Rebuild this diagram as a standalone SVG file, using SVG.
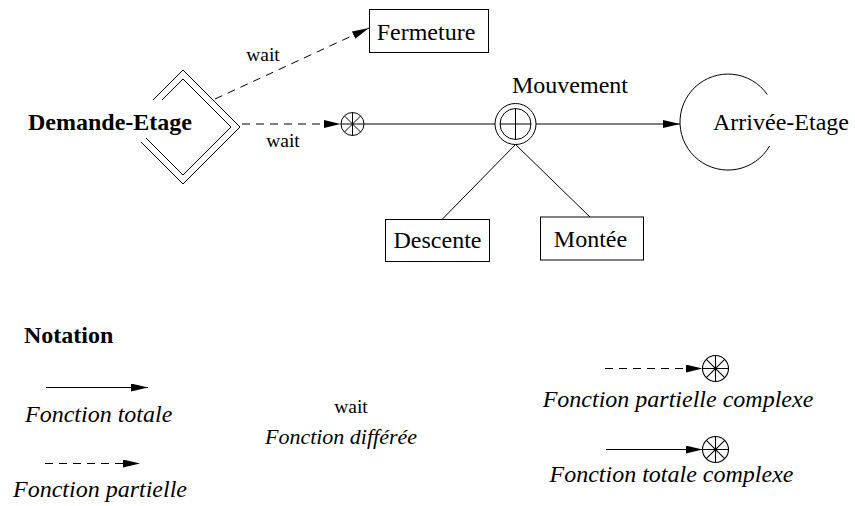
<svg xmlns="http://www.w3.org/2000/svg" width="855" height="506" viewBox="0 0 855 506">
  <style>
    .ln { fill: none; stroke: #000; stroke-width: 1; }
    .dash { stroke-dasharray: 8 6; }
    .box { fill: #fff; stroke: #000; stroke-width: 1; }
    .t { font-family: "Liberation Serif", serif; font-size: 24px; fill: #000; }
    .bold { font-weight: bold; }
    .ital { font-style: italic; }
    .w { font-family: "Liberation Serif", serif; font-size: 19.5px; fill: #000; }
  </style>
  <defs>
    <marker id="arrow" viewBox="0 0 17 8" refX="17" refY="4" markerWidth="17" markerHeight="8" markerUnits="userSpaceOnUse" orient="auto">
      <path d="M0,0 L17,4 L0,8 Z" fill="#000"/>
    </marker>
    <!-- complex-function symbol: circle with eight spokes -->
    <g id="star">
      <circle cx="0" cy="0" r="1" fill="#fff" stroke="#000" stroke-width="0.085"/>
      <path d="M0,-1 V1 M-1,0 H1 M-0.707,-0.707 L0.707,0.707 M-0.707,0.707 L0.707,-0.707" stroke="#000" stroke-width="0.085" fill="none"/>
    </g>
  </defs>

  <!-- connectors -->
  <g id="connectors">
    <line class="ln dash" x1="215" y1="99" x2="369" y2="28" marker-end="url(#arrow)"/>
    <line class="ln dash" x1="242" y1="124" x2="340.5" y2="124" marker-end="url(#arrow)"/>
    <line class="ln" x1="364" y1="124" x2="495" y2="124"/>
    <line class="ln" x1="536" y1="124" x2="680" y2="124" marker-end="url(#arrow)"/>
    <line class="ln" x1="515.5" y1="144.5" x2="442" y2="219.5"/>
    <line class="ln" x1="515.5" y1="144.5" x2="590" y2="217"/>
  </g>

  <!-- event: Demande-Etage (double diamond, open behind its label) -->
  <g id="demande-etage">
    <polyline class="ln" points="153,100 183,70 240,127 183,184 141,142"/>
    <polyline class="ln" points="162,100 183,79 231,127 183,175 146,138"/>
    <text class="t bold" x="110" y="130" text-anchor="middle">Demande-Etage</text>
  </g>

  <!-- wait labels -->
  <g id="labels">
    <text class="w" x="263" y="61" text-anchor="middle">wait</text>
    <text class="w" x="283" y="147" text-anchor="middle">wait</text>
  </g>

  <g id="fermeture">
    <rect class="box" x="369.5" y="9.5" width="119" height="43"/>
    <text class="t" x="426" y="40" text-anchor="middle">Fermeture</text>
  </g>

  <g id="complex-node">
    <use href="#star" transform="translate(352.5,124) scale(11.5)"/>
  </g>

  <g id="mouvement">
    <circle class="ln" cx="515.5" cy="124" r="20.5"/>
    <circle class="ln" cx="515.5" cy="124" r="15.5"/>
    <path class="ln" d="M515.5,108.5 V139.5 M500,124 H531"/>
    <text class="t" x="570" y="93" text-anchor="middle">Mouvement</text>
  </g>

  <g id="arrivee-etage">
    <path class="ln" d="M767.3,94.5 A48,48 0 1 0 769.6,146"/>
    <text class="t" x="781" y="130" text-anchor="middle">Arrivée-Etage</text>
  </g>

  <g id="descente">
    <rect class="box" x="385.5" y="219.5" width="104" height="42"/>
    <text class="t" x="437.5" y="248" text-anchor="middle">Descente</text>
  </g>

  <g id="montee">
    <rect class="box" x="540.5" y="217" width="103" height="43"/>
    <text class="t" x="590.5" y="247" text-anchor="middle">Montée</text>
  </g>

  <!-- legend -->
  <g id="notation">
    <text class="t bold" x="24" y="343">Notation</text>

    <line class="ln" x1="46" y1="387.5" x2="148" y2="387.5" marker-end="url(#arrow)"/>
    <text class="t ital" x="25" y="421.5">Fonction totale</text>

    <line class="ln dash" x1="45" y1="463.5" x2="140" y2="463.5" marker-end="url(#arrow)"/>
    <text class="t ital" x="13" y="497">Fonction partielle</text>

    <text class="w" x="351" y="412.5" text-anchor="middle">wait</text>
    <text class="t ital" x="341" y="443.5" text-anchor="middle" font-size="22" style="font-size:22px">Fonction différée</text>

    <line class="ln dash" x1="605" y1="368.5" x2="702.5" y2="368.5" marker-end="url(#arrow)"/>
    <use href="#star" transform="translate(715.5,368.5) scale(13)"/>
    <text class="t ital" x="678" y="406.5" text-anchor="middle">Fonction partielle complexe</text>

    <line class="ln" x1="606" y1="449.5" x2="702.5" y2="449.5" marker-end="url(#arrow)"/>
    <use href="#star" transform="translate(715.5,449.5) scale(13)"/>
    <text class="t ital" x="671.5" y="481.5" text-anchor="middle">Fonction totale complexe</text>
  </g>
</svg>
